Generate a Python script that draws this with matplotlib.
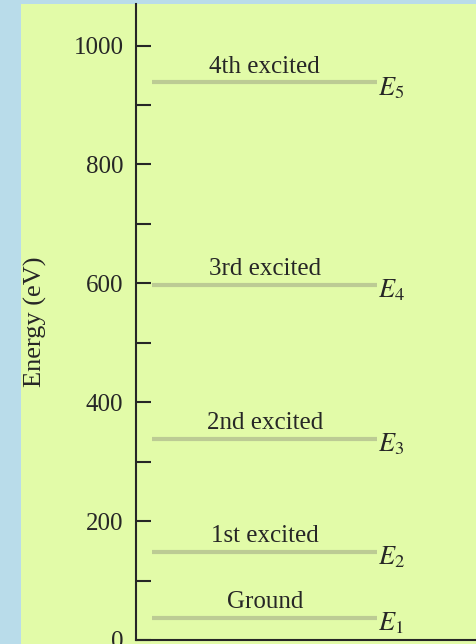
import matplotlib.pyplot as plt
from matplotlib.patches import Rectangle

# energy levels (eV)
level_names = ['Ground', '1st excited', '2nd excited', '3rd excited', '4th excited']
level_symbols = ['$E_1$', '$E_2$', '$E_3$', '$E_4$', '$E_5$']
level_energies = [37, 148, 338, 598, 938]
major_ticks = [0, 200, 400, 600, 800, 1000]
minor_ticks = [100, 300, 500, 700, 900]

BLUE = '#b9dcea'
GREEN = '#e2fba8'
LEVEL = '#bccb94'
INK = '#262626'

plt.rcParams['font.family'] = ['Liberation Serif', 'DejaVu Serif']
plt.rcParams['mathtext.fontset'] = 'stix'

fig = plt.figure(figsize=(4.76, 6.44), dpi=100, facecolor=BLUE)
# green panel behind the axes
fig.patches.append(Rectangle((21 / 476, 0), 1, 640 / 644, transform=fig.transFigure,
                             facecolor=GREEN, edgecolor='none', zorder=-5))

ax = fig.add_axes([136 / 476, 4 / 644, 340 / 476, 636 / 644])
ax.set_facecolor('none')
ax.set_xlim(0, 1)
ax.set_ylim(0, 1070)

for name, sym, e in zip(level_names, level_symbols, level_energies):
    ax.plot([0.047, 0.709], [e, e], color=LEVEL, lw=3, solid_capstyle='butt')
    ax.annotate(name, (0.379, e), xytext=(0, 7), textcoords='offset points',
                ha='center', va='baseline', fontsize=18, color=INK)
    ax.annotate(sym, (0.712, e), xytext=(0, -4), textcoords='offset points',
                ha='left', va='center', fontsize=19, color=INK)

for s in ['top', 'right']:
    ax.spines[s].set_visible(False)
for s in ['left', 'bottom']:
    ax.spines[s].set_linewidth(1.5)
    ax.spines[s].set_color(INK)

ax.set_xticks([])
ax.set_yticks(major_ticks)
ax.set_yticks(minor_ticks, minor=True)
ax.tick_params(axis='y', which='both', direction='in', length=11, width=1.5,
               color=INK, labelsize=18, labelcolor=INK, pad=9)

ax.set_ylabel('Energy (eV)', fontsize=19, color=INK)
ax.yaxis.set_label_coords(-0.262, 0.5)

fig.savefig('out.png', dpi=100, facecolor=BLUE)
